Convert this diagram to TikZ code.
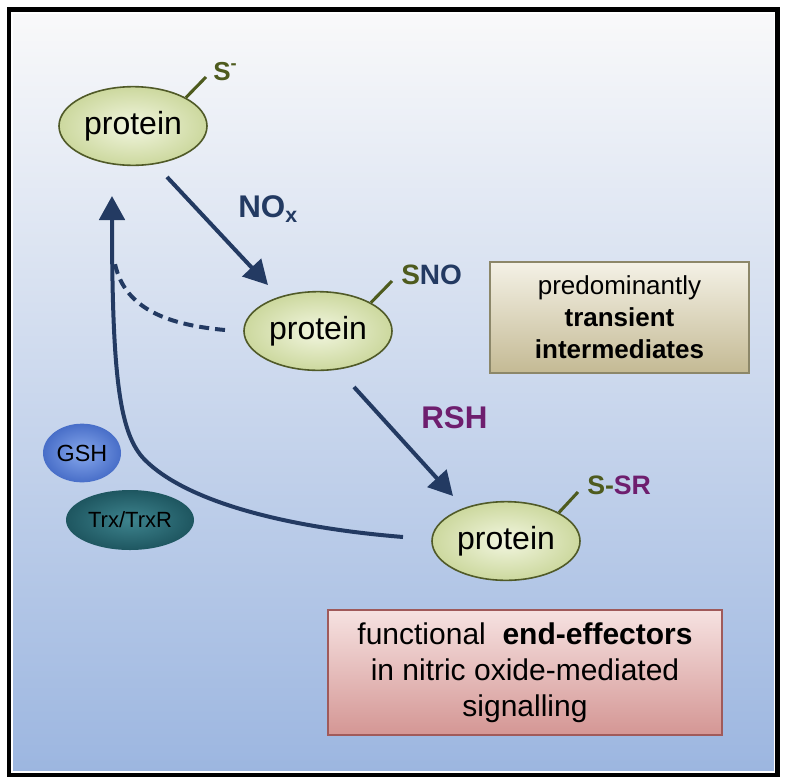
\documentclass[tikz,border=0pt]{standalone}
\usepackage{fontspec}
\setmainfont{Liberation Sans}
\usetikzlibrary{shapes.geometric,arrows.meta}
\definecolor{navyc}{RGB}{35,58,98}
\definecolor{sgreen}{RGB}{78,91,30}
\definecolor{purp}{RGB}{110,30,110}
\definecolor{ellborder}{RGB}{80,90,40}
\definecolor{ellin}{RGB}{242,246,224}
\definecolor{ellout}{RGB}{204,216,158}
\definecolor{bgtop}{RGB}{249,249,250}
\definecolor{bgmid}{RGB}{228,234,242}
\definecolor{bgbot}{RGB}{156,182,224}
\definecolor{boxatop}{RGB}{244,241,230}
\definecolor{boxabot}{RGB}{196,186,148}
\definecolor{boxaborder}{RGB}{140,135,105}
\definecolor{boxbtop}{RGB}{246,226,225}
\definecolor{boxbbot}{RGB}{212,150,148}
\definecolor{boxbborder}{RGB}{160,90,90}
\definecolor{gshin}{RGB}{135,168,236}
\definecolor{gshout}{RGB}{72,110,200}
\definecolor{trxin}{RGB}{62,132,142}
\definecolor{trxout}{RGB}{30,86,96}
\begin{document}
\begin{tikzpicture}[x=0.75pt,y=-0.75pt,
  prot/.style={ellipse, draw=ellborder, line width=1.2pt, inner color=ellin, outer color=ellout,
    minimum width=111pt, minimum height=59pt, inner sep=0pt, font=\fontsize{24}{28}\selectfont},
  stemline/.style={draw=sgreen, line width=2.3pt},
  arr/.style={draw=navyc, line width=3pt, -{Triangle[length=18pt,width=19pt]}},
  lbl/.style={anchor=base west, inner sep=0pt, font=\bfseries\fontsize{20}{24}\selectfont},
  infobox/.style={rectangle, line width=0.8pt, align=center, inner sep=0pt}
]
\useasboundingbox (0,0) rectangle (792,782);
\fill[white] (0,0) rectangle (792,782);
\shade[top color=bgtop, middle color=bgmid, bottom color=bgbot] (12,12) rectangle (776,773);
\draw[line width=3.5pt] (9,9.5) rectangle (777.5,775);
\draw[white, line width=1.2pt] (12.5,13) rectangle (774.5,772);

% protein ellipses
\node[prot] (e1) at (133,126) {protein};
\node[prot] (e2) at (318,331) {protein};
\node[prot] (e3) at (506,541) {protein};

% stems and labels
\coordinate (s1) at (206,77);
\coordinate (s2) at (392,281);
\coordinate (s3) at (578,492);
\draw[stemline] (e1.north east) -- (s1);
\draw[stemline] (e2.north east) -- (s2);
\draw[stemline] (e3.north east) -- (s3);
\node[lbl, text=sgreen, font=\bfseries\fontsize{19.5}{22}\selectfont] (l1) at (213,80) {S\textsuperscript{-}};
\node[lbl, text=navyc, font=\bfseries\fontsize{21}{24}\selectfont] (l2) at (401,284) {\textcolor{sgreen}{S}NO};
\node[lbl, text=sgreen, font=\bfseries\fontsize{20}{24}\selectfont] (l3) at (587,494) {S-\textcolor{purp}{SR}};

% reaction labels
\node[lbl, text=navyc, font=\bfseries\fontsize{23.5}{26}\selectfont] (nox) at (238,217) {NO\raisebox{-0.35ex}{\fontsize{16}{18}\selectfont x}};
\node[lbl, text=purp, font=\bfseries\fontsize{23.5}{26}\selectfont] (rsh) at (421,428) {RSH};

% arrows
\coordinate (a1s) at (167,177);
\coordinate (a1e) at (268,285);
\draw[arr] (a1s) -- (a1e);
\coordinate (a2s) at (354,387);
\coordinate (a2e) at (453,496);
\draw[arr] (a2s) -- (a2e);

\coordinate (c3) at (403,537);
\coordinate (c1) at (112,196);
\draw[arr] (c3) .. controls (280,527) and (185,500) .. (145,460)
  .. controls (120,435) and (112,380) .. (c1);

\coordinate (d2) at (225,330);
\coordinate (d1) at (115,264);
\draw[draw=navyc, line width=3pt, dash pattern=on 7.5pt off 4.5pt] (d2) .. controls (170,325) and (125,310) .. (d1);

% reductants
\node[ellipse, inner color=gshin, outer color=gshout, minimum width=58.5pt, minimum height=44pt, inner sep=0pt,
  font=\fontsize{17.5}{20}\selectfont] (gsh) at (82,453) {GSH};
\node[ellipse, inner color=trxin, outer color=trxout, minimum width=96pt, minimum height=45pt, inner sep=0pt,
  font=\fontsize{16.5}{19}\selectfont] (trx) at (130,520) {Trx/TrxR};

% info boxes
\node[infobox, draw=boxaborder, top color=boxatop, bottom color=boxabot,
  minimum width=194.25pt, minimum height=83.25pt, font=\fontsize{19.5}{24}\selectfont] (b1) at (619.5,317.5)
  {predominantly\\\textbf{transient}\\\textbf{intermediates}};
\node[infobox, draw=boxbborder, top color=boxbtop, bottom color=boxbbot,
  minimum width=295.5pt, minimum height=93.75pt, font=\fontsize{22.5}{27}\selectfont] (b2) at (525,672.5)
  {functional\ \ \textbf{end-effectors}\\in nitric oxide-mediated\\signalling};
\end{tikzpicture}
\end{document}
